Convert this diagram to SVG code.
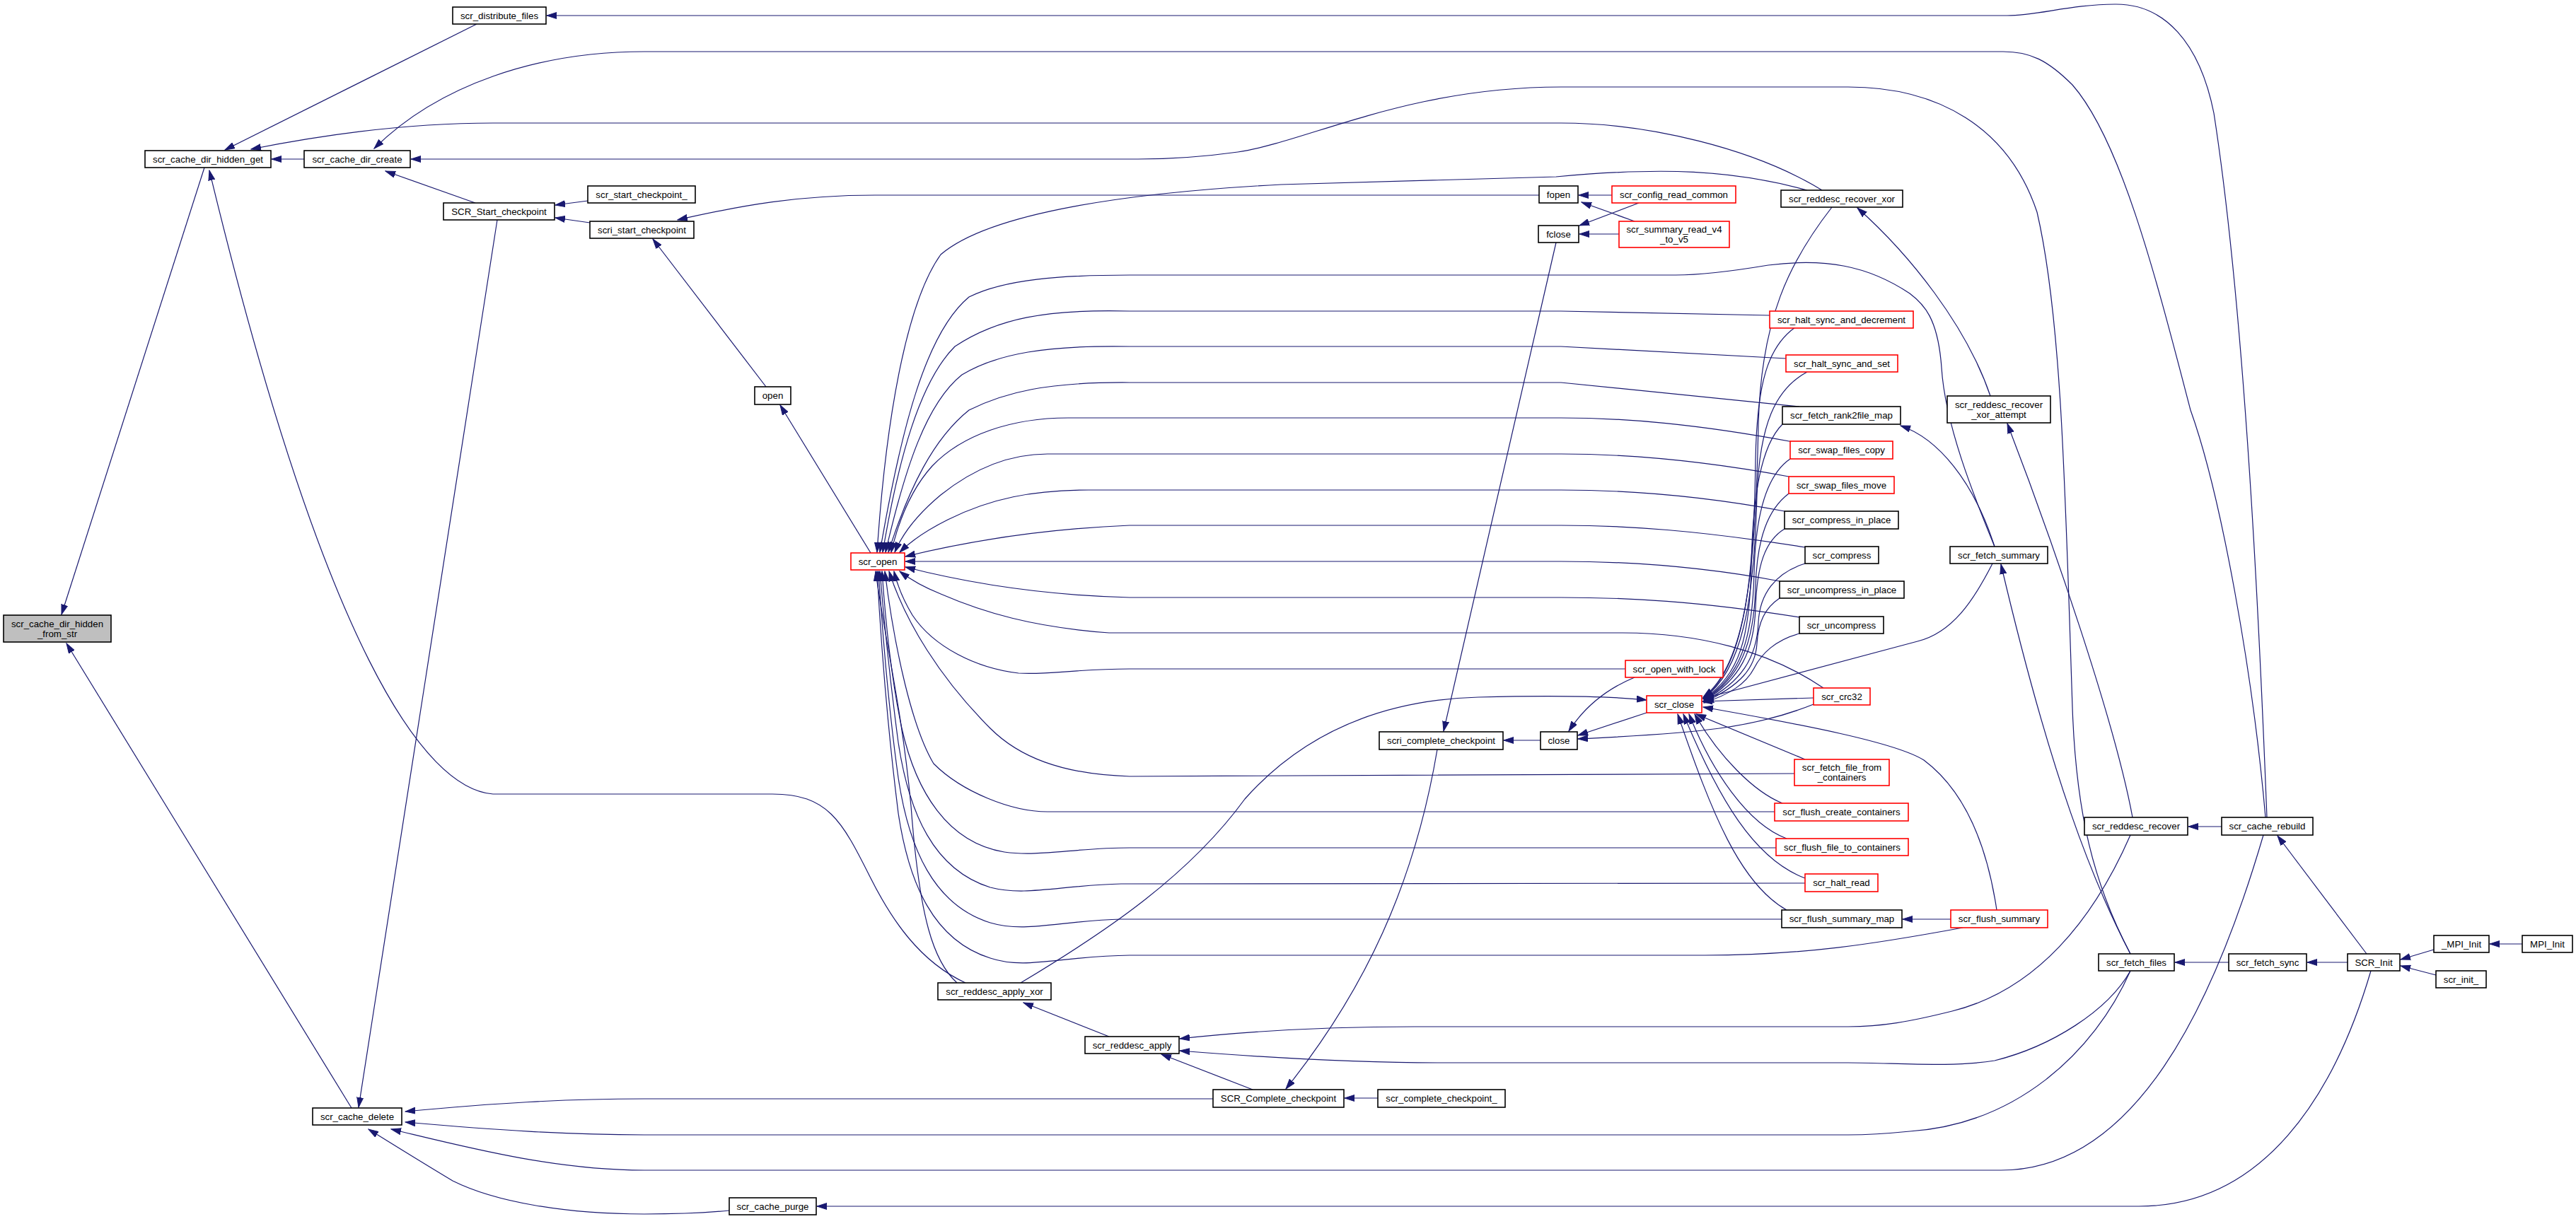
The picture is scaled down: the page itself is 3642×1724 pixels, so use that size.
<svg xmlns="http://www.w3.org/2000/svg" width="3642" height="1724" viewBox="0 0 3642 1724">
<style>
.n rect{fill:#fff;stroke:#000;stroke-width:1.6}
.r rect{stroke:#f00}
.g rect{fill:#bfbfbf}
text{font-family:"Liberation Sans",Arial,Helvetica,sans-serif;font-size:13.3px;text-anchor:middle;fill:#000}
#edges path{fill:none;stroke:#191970;stroke-width:1.2;marker-end:url(#a)}
</style>
<defs>
<marker id="a" markerUnits="userSpaceOnUse" markerWidth="15" markerHeight="10" refX="14" refY="5" orient="auto" viewBox="0 0 15 10"><path d="M0,0.5 L14,5 L0,9.5z" fill="#191970" stroke="#191970" stroke-width="1"/></marker>
</defs>
<rect width="3642" height="1724" fill="#fff"/>
<g id="edges">
<path d="M289,237 L87,869"/>
<path d="M497,1567 L94,910"/>
<path d="M674,34 L318,212"/>
<path d="M430,225 L384,225"/>
<path d="M2576,269 C2480,210 2330,174 2207,174 L697,174 C580,174 460,190 355,211"/>
<path d="M3203,1156 C3185,950 3140,700 3097,580 C3050,400 3000,200 2930,120 C2895,85 2870,73 2832,73 L911,73 C760,73 620,120 529,210"/>
<path d="M3205,1156 C3195,900 3175,450 3130,160 C3110,60 3060,5 2990,6 C2930,6 2880,22 2838,22 L773,22"/>
<path d="M3012,1349 C2960,1250 2935,1150 2930,1000 C2920,700 2915,450 2880,300 C2840,180 2740,123 2613,123 L2207,123 C1990,123 1850,200 1750,215 C1700,222 1650,225 1609,225 L581,225"/>
<path d="M3012,1349 C2960,1250 2900,1100 2829,798"/>
<path d="M672,287 L545,242"/>
<path d="M831,284 L785,290"/>
<path d="M834,315 L785,308"/>
<path d="M703,311 L507,1566"/>
<path d="M1083,547 L923,338"/>
<path d="M2176,276 L1237,276 C1130,276 1050,290 958,311"/>
<path d="M1231,782 L1103,573"/>
<path d="M2279,276 L2232,276"/>
<path d="M2311,313 L2236,286"/>
<path d="M2317,287 L2233,319"/>
<path d="M2289,331 L2233,331"/>
<path d="M2200,343 L2041,1034"/>
<path d="M2178,1047 L2126,1047"/>
<path d="M2032,1060 C2000,1250 1930,1400 1818,1540"/>
<path d="M2311,958 C2270,975 2240,1000 2218,1034"/>
<path d="M2328,1008 L2231,1040"/>
<path d="M2564,996 C2480,1030 2400,1037 2231,1045"/>
<path d="M2564,987 L2407,992"/>
<path d="M1771,1541 L1642,1491"/>
<path d="M1568,1466 L1447,1418"/>
<path d="M1948,1553 L1901,1553"/>
<path d="M3012,1181 C2960,1300 2880,1400 2760,1430 C2700,1445 2660,1452 2613,1452 L2000,1452 C1850,1452 1750,1460 1668,1469"/>
<path d="M3012,1373 C2980,1430 2900,1480 2820,1500 C2760,1510 2680,1503 2613,1503 L2032,1503 C1900,1503 1780,1495 1668,1486"/>
<path d="M3141,1169 L3094,1169"/>
<path d="M3346,1349 L3220,1182"/>
<path d="M3151,1361 L3075,1361"/>
<path d="M3319,1361 L3262,1361"/>
<path d="M3441,1343 L3394,1357"/>
<path d="M3444,1379 L3394,1366"/>
<path d="M3566,1335 L3520,1335"/>
<path d="M2758,1300 L2690,1300"/>
<path d="M2820,773 C2790,680 2740,620 2687,602"/>
<path d="M3015,1156 C2990,1020 2900,760 2838,599"/>
<path d="M2814,560 C2780,460 2700,360 2626,294"/>
<path d="M3200,1181 C3130,1420 3020,1655 2829,1655 L911,1655 C780,1655 650,1620 553,1597"/>
<path d="M3012,1373 C2960,1490 2850,1590 2700,1600 C2660,1604 2640,1605 2613,1605 L911,1605 C800,1605 700,1598 573,1587"/>
<path d="M1715,1554 L911,1554 C800,1554 700,1560 573,1572"/>
<path d="M1031,1712 C990,1716 950,1717 911,1717 C800,1717 700,1700 640,1670 C590,1640 550,1615 521,1597"/>
<path d="M3352,1373 C3300,1550 3200,1706 3024,1706 L1155,1706"/>
<path d="M1365,1390 C1300,1360 1260,1300 1230,1240 C1190,1160 1170,1123 1092,1123 L697,1123 C600,1115 460,920 296,241"/>
<path d="M1443,1390 C1560,1320 1680,1240 1760,1130 C1840,1040 1950,990 2090,986 C2200,983 2280,985 2328,990"/>
<path d="M1353,1390 C1320,1360 1300,1300 1288,1140 C1275,1000 1250,900 1238,808"/>
<path d="M2555,269 C2450,240 2350,236 2200,250 L1811,261 C1600,272 1400,300 1330,360 C1280,430 1252,600 1240,781"/>
<path d="M2820,773 C2790,700 2750,600 2745,520 C2740,450 2720,430 2700,415 C2640,375 2580,365 2500,375 C2440,385 2400,389 2369,389 L1597,389 C1500,389 1420,395 1370,420 C1310,470 1275,600 1244,781"/>
<path d="M2502,446 L2207,440 L1597,440 C1480,437 1410,450 1350,490 C1300,540 1270,650 1248,781"/>
<path d="M2525,507 L2207,490 L1597,490 C1480,488 1410,500 1360,530 C1310,570 1280,660 1252,781"/>
<path d="M2544,575 L2207,541 L1597,541 C1480,540 1420,555 1370,580 C1320,620 1285,690 1256,781"/>
<path d="M2535,625 C2400,600 2300,591 2207,591 L1510,591 C1430,591 1360,615 1318,659 C1290,690 1272,730 1260,781"/>
<path d="M2529,674 C2400,650 2300,642 2207,642 L1481,642 C1430,642 1380,660 1330,700 C1300,725 1278,750 1265,781"/>
<path d="M2523,723 C2400,700 2300,693 2207,693 L1539,693 C1460,693 1400,705 1340,735 C1310,750 1288,765 1272,781"/>
<path d="M2552,774 C2400,750 2300,743 2207,743 L1597,743 C1480,748 1370,765 1280,787"/>
<path d="M2516,822 C2400,800 2300,794 2207,794 L1280,794"/>
<path d="M2544,873 C2400,850 2300,845 2207,845 L1597,845 C1480,842 1370,825 1280,802"/>
<path d="M2578,973 C2500,920 2400,895 2294,895 L1568,895 C1460,887 1390,866 1330,840 C1300,828 1285,818 1272,808"/>
<path d="M2298,946 L1597,946 C1520,946 1480,955 1440,952 C1380,945 1320,915 1290,870 C1275,845 1268,825 1264,808"/>
<path d="M2537,1094 L1597,1098 C1500,1095 1440,1070 1400,1030 C1330,960 1280,880 1257,808"/>
<path d="M2509,1148 L1481,1148 C1430,1148 1360,1120 1320,1080 C1290,1030 1265,920 1251,808"/>
<path d="M2511,1199 L1597,1199 C1520,1199 1470,1212 1420,1205 C1340,1192 1295,1120 1275,1030 C1260,960 1252,880 1247,808"/>
<path d="M2552,1249 L1585,1250 C1500,1252 1450,1268 1400,1255 C1320,1230 1285,1150 1270,1050 C1258,960 1250,880 1244,808"/>
<path d="M2519,1300 L1585,1300 C1500,1302 1450,1320 1400,1305 C1320,1280 1285,1200 1270,1100 C1256,1000 1248,900 1242,808"/>
<path d="M2775,1312 C2650,1335 2550,1351 2410,1351 L1597,1351 C1500,1352 1450,1372 1400,1355 C1320,1330 1285,1250 1270,1150 C1255,1030 1245,900 1240,808"/>
<path d="M2590,293 C2530,370 2490,450 2486,600 C2482,800 2470,940 2408,986"/>
<path d="M2538,463 C2500,490 2484,540 2482,650 C2480,820 2466,945 2408,987"/>
<path d="M2555,526 C2510,550 2488,600 2484,700 C2480,850 2464,948 2408,988"/>
<path d="M2520,600 C2490,630 2478,700 2476,800 C2474,900 2460,955 2409,988"/>
<path d="M2531,649 C2500,670 2482,720 2480,810 C2478,905 2460,958 2409,989"/>
<path d="M2529,698 C2500,720 2484,760 2482,830 C2480,910 2460,960 2409,990"/>
<path d="M2523,748 C2495,765 2484,800 2482,860 C2480,920 2460,962 2409,991"/>
<path d="M2552,797 C2510,810 2488,840 2486,880 C2484,930 2462,965 2409,992"/>
<path d="M2516,846 C2495,860 2486,880 2484,910 C2482,945 2460,970 2409,993"/>
<path d="M2544,896 C2510,905 2490,925 2480,945 C2468,968 2445,982 2409,994"/>
<path d="M2817,797 C2790,850 2760,895 2711,907 L2408,988"/>
<path d="M2823,1287 C2810,1200 2780,1120 2720,1075 C2680,1050 2550,1025 2408,1000"/>
<path d="M2552,1074 L2398,1010"/>
<path d="M2520,1136 C2480,1120 2430,1070 2396,1010"/>
<path d="M2526,1186 C2470,1165 2420,1090 2388,1010"/>
<path d="M2552,1242 C2480,1215 2430,1130 2380,1010"/>
<path d="M2526,1287 C2460,1250 2420,1150 2372,1010"/>
</g>
<g id="n1" class="n g"><rect x="5" y="870" width="152" height="38"/><text x="81" y="886.5">scr_cache_dir_hidden</text><text x="81" y="900.5">_from_str</text></g>
<g id="n2" class="n"><rect x="205" y="213" width="178" height="24"/><text x="294" y="229.5">scr_cache_dir_hidden_get</text></g>
<g id="n3" class="n"><rect x="430" y="213" width="150" height="24"/><text x="505" y="229.5">scr_cache_dir_create</text></g>
<g id="n4" class="n"><rect x="640" y="10" width="132" height="24"/><text x="706" y="26.5">scr_distribute_files</text></g>
<g id="n5" class="n"><rect x="627" y="287" width="157" height="24"/><text x="705.5" y="303.5">SCR_Start_checkpoint</text></g>
<g id="n6" class="n"><rect x="831" y="263" width="152" height="24"/><text x="907" y="279.5">scr_start_checkpoint_</text></g>
<g id="n7" class="n"><rect x="834" y="313" width="147" height="24"/><text x="907.5" y="329.5">scri_start_checkpoint</text></g>
<g id="n8" class="n"><rect x="1067" y="547" width="51" height="25"/><text x="1092.5" y="564">open</text></g>
<g id="n9" class="n r"><rect x="1203" y="782" width="76" height="24"/><text x="1241" y="798.5">scr_open</text></g>
<g id="n10" class="n"><rect x="2176" y="263" width="55" height="24"/><text x="2203.5" y="279.5">fopen</text></g>
<g id="n11" class="n"><rect x="2175" y="319" width="57" height="24"/><text x="2203.5" y="335.5">fclose</text></g>
<g id="n12" class="n r"><rect x="2279" y="263" width="175" height="24"/><text x="2366.5" y="279.5">scr_config_read_common</text></g>
<g id="n13" class="n r"><rect x="2289" y="313" width="156" height="37"/><text x="2367" y="329">scr_summary_read_v4</text><text x="2367" y="343">_to_v5</text></g>
<g id="n14" class="n"><rect x="2518" y="269" width="172" height="24"/><text x="2604" y="285.5">scr_reddesc_recover_xor</text></g>
<g id="n15" class="n r"><rect x="2502" y="440" width="203" height="24"/><text x="2603.5" y="456.5">scr_halt_sync_and_decrement</text></g>
<g id="n16" class="n r"><rect x="2525" y="502" width="158" height="24"/><text x="2604" y="518.5">scr_halt_sync_and_set</text></g>
<g id="n17" class="n"><rect x="2520" y="575" width="167" height="25"/><text x="2603.5" y="592">scr_fetch_rank2file_map</text></g>
<g id="n18" class="n r"><rect x="2531" y="624" width="145" height="25"/><text x="2603.5" y="641">scr_swap_files_copy</text></g>
<g id="n19" class="n r"><rect x="2529" y="674" width="149" height="24"/><text x="2603.5" y="690.5">scr_swap_files_move</text></g>
<g id="n20" class="n"><rect x="2523" y="723" width="161" height="25"/><text x="2603.5" y="740">scr_compress_in_place</text></g>
<g id="n21" class="n"><rect x="2552" y="773" width="104" height="24"/><text x="2604" y="789.5">scr_compress</text></g>
<g id="n22" class="n"><rect x="2516" y="822" width="176" height="24"/><text x="2604" y="838.5">scr_uncompress_in_place</text></g>
<g id="n23" class="n"><rect x="2544" y="872" width="119" height="24"/><text x="2603.5" y="888.5">scr_uncompress</text></g>
<g id="n24" class="n r"><rect x="2298" y="934" width="138" height="24"/><text x="2367" y="950.5">scr_open_with_lock</text></g>
<g id="n25" class="n r"><rect x="2328" y="984" width="78" height="24"/><text x="2367" y="1000.5">scr_close</text></g>
<g id="n26" class="n r"><rect x="2564" y="973" width="80" height="24"/><text x="2604" y="989.5">scr_crc32</text></g>
<g id="n27" class="n"><rect x="2178" y="1035" width="52" height="25"/><text x="2204" y="1052">close</text></g>
<g id="n28" class="n"><rect x="1950" y="1035" width="175" height="25"/><text x="2037.5" y="1052">scri_complete_checkpoint</text></g>
<g id="n29" class="n r"><rect x="2537" y="1074" width="134" height="37"/><text x="2604" y="1090">scr_fetch_file_from</text><text x="2604" y="1104">_containers</text></g>
<g id="n30" class="n r"><rect x="2509" y="1136" width="189" height="25"/><text x="2603.5" y="1153">scr_flush_create_containers</text></g>
<g id="n31" class="n r"><rect x="2511" y="1186" width="187" height="24"/><text x="2604.5" y="1202.5">scr_flush_file_to_containers</text></g>
<g id="n32" class="n r"><rect x="2552" y="1236" width="103" height="25"/><text x="2603.5" y="1253">scr_halt_read</text></g>
<g id="n33" class="n"><rect x="2519" y="1287" width="170" height="25"/><text x="2604" y="1304">scr_flush_summary_map</text></g>
<g id="n34" class="n"><rect x="1715" y="1541" width="185" height="25"/><text x="1807.5" y="1558">SCR_Complete_checkpoint</text></g>
<g id="n35" class="n"><rect x="1948" y="1541" width="180" height="25"/><text x="2038" y="1558">scr_complete_checkpoint_</text></g>
<g id="n36" class="n"><rect x="1326" y="1390" width="160" height="24"/><text x="1406" y="1406.5">scr_reddesc_apply_xor</text></g>
<g id="n37" class="n"><rect x="1534" y="1466" width="133" height="24"/><text x="1600.5" y="1482.5">scr_reddesc_apply</text></g>
<g id="n38" class="n"><rect x="1031" y="1694" width="123" height="24"/><text x="1092.5" y="1710.5">scr_cache_purge</text></g>
<g id="n39" class="n"><rect x="442" y="1567" width="126" height="24"/><text x="505" y="1583.5">scr_cache_delete</text></g>
<g id="n40" class="n r"><rect x="2758" y="1287" width="137" height="25"/><text x="2826.5" y="1304">scr_flush_summary</text></g>
<g id="n41" class="n"><rect x="2947" y="1156" width="146" height="25"/><text x="3020" y="1173">scr_reddesc_recover</text></g>
<g id="n42" class="n"><rect x="3141" y="1156" width="129" height="25"/><text x="3205.5" y="1173">scr_cache_rebuild</text></g>
<g id="n43" class="n"><rect x="2967" y="1349" width="107" height="24"/><text x="3020.5" y="1365.5">scr_fetch_files</text></g>
<g id="n44" class="n"><rect x="3151" y="1349" width="110" height="24"/><text x="3206" y="1365.5">scr_fetch_sync</text></g>
<g id="n45" class="n"><rect x="3319" y="1349" width="74" height="24"/><text x="3356" y="1365.5">SCR_Init</text></g>
<g id="n46" class="n"><rect x="3441" y="1323" width="78" height="24"/><text x="3480" y="1339.5">_MPI_Init</text></g>
<g id="n47" class="n"><rect x="3566" y="1323" width="71" height="24"/><text x="3601.5" y="1339.5">MPI_Init</text></g>
<g id="n48" class="n"><rect x="3444" y="1373" width="71" height="24"/><text x="3479.5" y="1389.5">scr_init_</text></g>
<g id="n49" class="n"><rect x="2753" y="560" width="146" height="38"/><text x="2826" y="576.5">scr_reddesc_recover</text><text x="2826" y="590.5">_xor_attempt</text></g>
<g id="n50" class="n"><rect x="2757" y="773" width="138" height="24"/><text x="2826" y="789.5">scr_fetch_summary</text></g>
</svg>
